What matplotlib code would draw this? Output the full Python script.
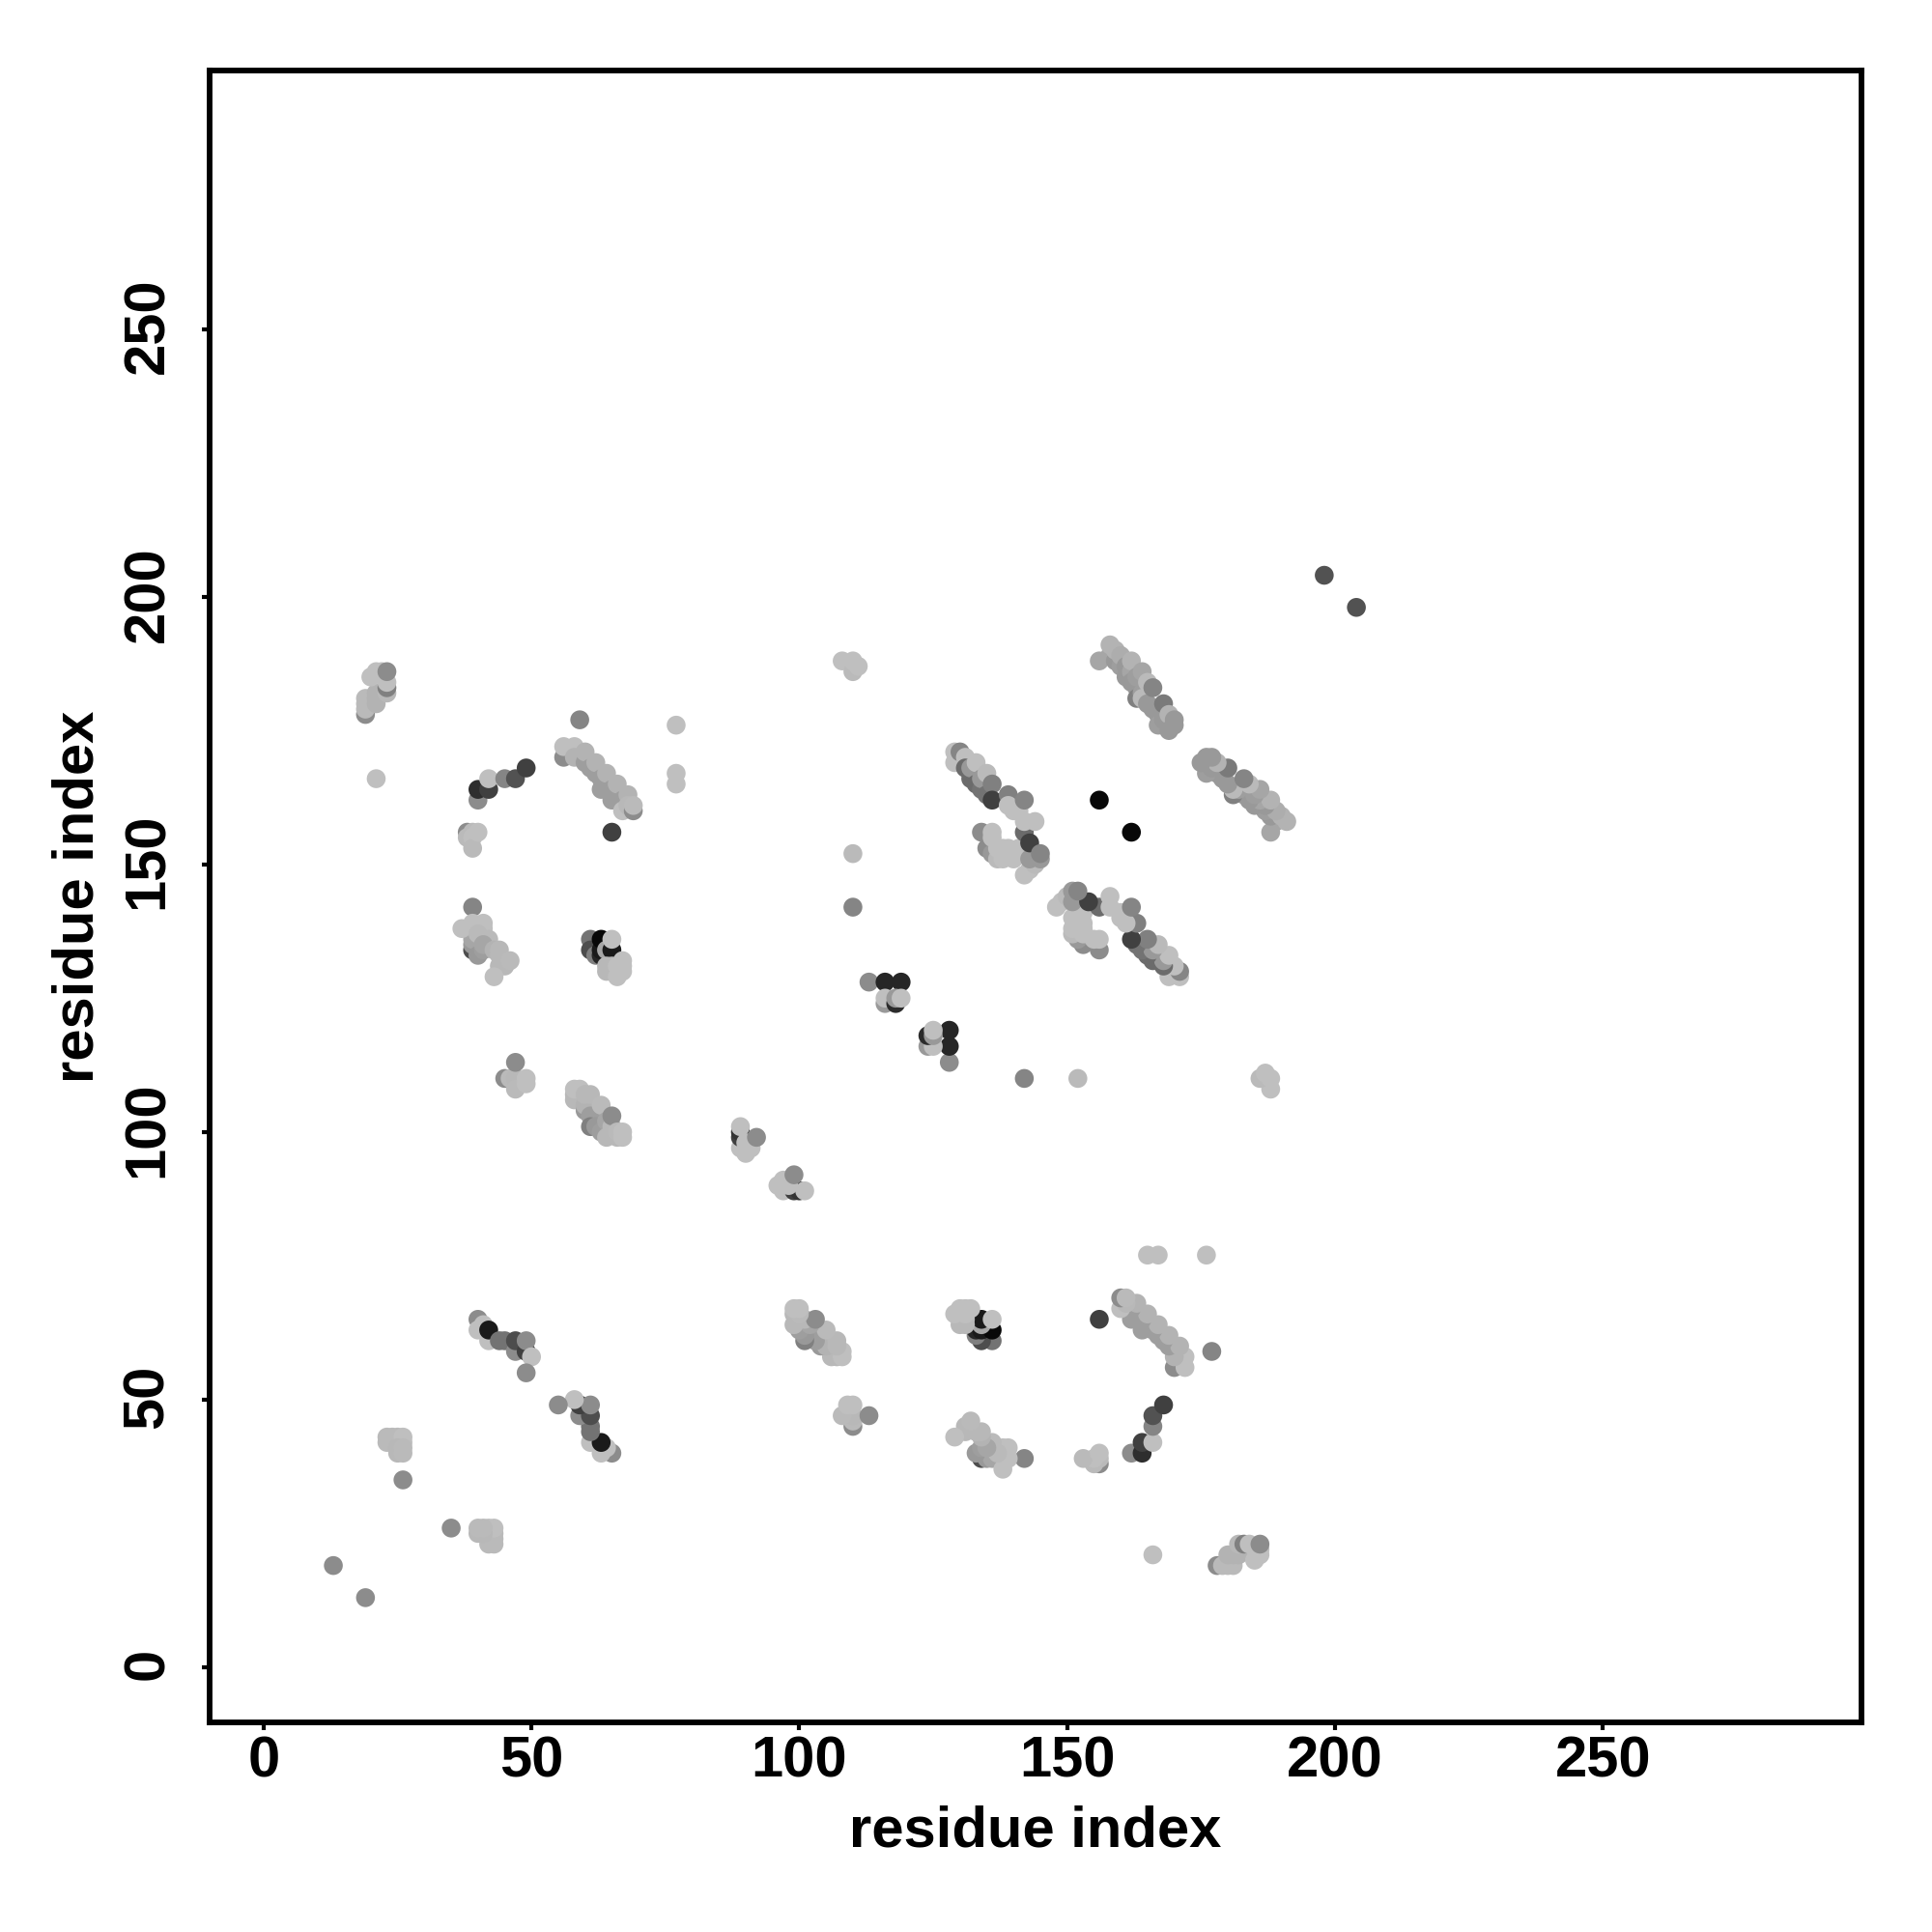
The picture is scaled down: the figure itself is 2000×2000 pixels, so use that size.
#!/usr/bin/env python3
import numpy as np
import matplotlib
matplotlib.use("Agg")
import matplotlib.pyplot as plt
from matplotlib.transforms import ScaledTranslation

# contacts as (residue i, residue j, grey level), the map is symmetric
c_lone = [(13,19,.55),(26,35,.55),(21,166,.75),(59,177,.52),(65,156,.25),(77,165,.75),(77,167,.75),(77,176,.75),
          (110,142,.52),(110,152,.73),(156,162,.03),(198,204,.32)]
c_19_186 = [(19,178,.55),(19,179,.73),(19,180,.73),(19,181,.73),(20,180,.73),(20,181,.73),(21,180,.7),(21,181,.7),
            (21,182,.7),(22,182,.7),(23,182,.72),(23,183,.5),(23,184,.75),(20,185,.75),(21,186,.75),(22,186,.75),(23,186,.55)]
c_40_168 = [(40,162,.55),(40,164,.18),(42,164,.25),(42,166,.75),(45,166,.52),(47,166,.32),(49,168,.25)]
c_38_156 = [(38,156,.55),(38,155,.73),(39,156,.73),(39,155,.75),(39,153,.73),(40,156,.75)]
c_45_113 = [(45,110,.55),(46,110,.73),(47,110,.72),(47,108,.73),(49,109,.75),(49,110,.75),(47,113,.55)]
c_56_172 = [(56,170,.55),(56,172,.75),(58,172,.75),(58,170,.7),(60,169,.62),(60,171,.7),(61,168,.62),(62,167,.62),
            (62,169,.7),(63,166,.62),(63,164,.62),(64,165,.62),(64,167,.7),(65,164,.62),(65,162,.62),(66,163,.62),
            (66,165,.7),(67,162,.62),(68,163,.7),(67,160,.75),(68,161,.72),(69,160,.55),(69,161,.73)]
c_37_142 = [(39,142,.52),(39,134,.3),(39,135,.6),(39,136,.65),(40,133,.6),(37,138,.75),(39,139,.75),(41,139,.75),
            (41,138,.75),(40,137,.73),(42,136,.73),(41,134,.62),(41,135,.65),(43,134,.7),(44,133,.72),(44,134,.72),
            (44,131,.72),(45,131,.72),(46,132,.73),(43,129,.75)]
c_61_136 = [(61,136,.45),(61,134,.3),(62,133,.5),(63,133,.15),(63,134,.1),(63,136,.03),(64,134,.65),(65,134,.1),
            (64,130,.72),(64,131,.72),(65,131,.72),(66,129,.75),(66,131,.75),(67,130,.75),(67,131,.75),(67,132,.75),(65,136,.75)]
c_58_108 = [(58,106,.72),(58,107,.72),(58,108,.75),(59,108,.75),(60,104,.6),(60,105,.7),(60,107,.72),(61,107,.72),
            (61,103,.62),(62,102,.62),(61,101,.5),(62,101,.6),(63,100,.62),(63,105,.73),(64,102,.65),(64,99,.72),
            (65,101,.72),(65,103,.55),(66,99,.72),(66,100,.73),(67,99,.75),(67,100,.75)]
c_89_101 = [(89,97,.75),(89,99,.25),(89,100,.2),(90,96,.75),(90,98,.75),(91,97,.75),(92,99,.55),(89,101,.75)]
c_113_128 = [(113,128,.55),(116,128,.15),(119,128,.15),(116,124,.6),(116,125,.75),(118,124,.17),(118,125,.6),(119,125,.75)]
c_108_188 = [(108,188,.75),(110,186,.73),(110,188,.75),(111,187,.75)]
c_129_171 = [(129,169,.75),(129,171,.75),(130,171,.52),(131,170,.75),(131,168,.42),(132,166,.42),(132,168,.6),(133,169,.75),
             (133,165,.42),(134,164,.45),(134,166,.6),(135,163,.45),(135,167,.73),(136,165,.5),(136,162,.25),(139,163,.5),
             (139,161,.75),(140,160,.75),(141,160,.75),(142,162,.52)]
c_134_158 = [(134,156,.55),(135,153,.55),(136,152,.6),(136,155,.75),(136,156,.75),(137,151,.73),(137,153,.75),(138,151,.75),
             (138,152,.75),(138,153,.75),(139,152,.75),(139,153,.75),(140,151,.75),(140,152,.75),(141,152,.75),(141,153,.75),
             (142,156,.42),(142,158,.75),(144,158,.75),(142,148,.75),(143,149,.75),
             (144,150,.73),(143,151,.6),(143,154,.25),(145,151,.6),(145,152,.52)]
c_156_191 = [(156,188,.65),(158,189,.65),(158,191,.7),(159,188,.6),(159,190,.7),(160,187,.62),(160,189,.68),(161,187,.6),(161,185,.6),
             (162,186,.65),(162,188,.7),(162,184,.6),(163,183,.6),(163,185,.62),(163,181,.5),(164,186,.65),(164,182,.62),(164,181,.73),(165,180,.6),
             (165,184,.73),(166,183,.52),(166,179,.6),(167,178,.6),(167,176,.62),(168,177,.6),(168,180,.48),(169,178,.7),
             (169,175,.6),(170,176,.6),(170,177,.6)]
c_23_43 = [(23,42,.73),(23,43,.73),(24,43,.73),(25,43,.73),(26,43,.75),(26,42,.75),(25,40,.72),(25,41,.72),(26,40,.73),(26,41,.73)]
c_40_65 = [(40,65,.55),(41,64,.75),(40,63,.75),(42,61,.75),(42,63,.1),(44,61,.45),(45,61,.45),(47,59,.55),(47,61,.3),
           (49,59,.25),(49,61,.55),(50,58,.75),(49,55,.55)]

ticks = [0, 50, 100, 150, 200, 250]
contacts = np.array(c_lone + c_19_186 + c_40_168 + c_38_156 + c_45_113 + c_56_172 + c_37_142 + c_61_136 + c_58_108
                    + c_89_101 + c_113_128 + c_108_188 + c_129_171 + c_134_158 + c_156_191 + c_23_43 + c_40_65)
#----------------------------------------
plt.rcParams['font.family'] = ['Liberation Sans', 'DejaVu Sans']
plt.rcParams['font.weight'] = 'bold'

fig = plt.figure(figsize=(20, 20), dpi=100)
ax = fig.add_axes([217/2000, 1-1783/2000, (1927-217)/2000, (1783-73)/2000])

grey = [str(g) for g in contacts[:, 2]]
ax.scatter(contacts[:, 0], contacts[:, 1], c=grey, s=198, linewidths=0, zorder=2)
ax.scatter(contacts[:, 1], contacts[:, 0], c=grey, s=198, linewidths=0, zorder=2)

ax.set_xlim(-10.1, 298.3)
ax.set_ylim(-10.3, 298.3)
ax.set_xticks(ticks)
ax.set_yticks(ticks)
ax.set_yticklabels([str(t) for t in ticks], rotation=90, va='center')
ax.tick_params(axis='x', length=6, width=3, labelsize=43, pad=4)
ax.tick_params(axis='y', length=6, width=3, labelsize=43, pad=20)
# rotated labels sit a little low with va='center'
shift = ScaledTranslation(0, 2.2/72, fig.dpi_scale_trans)
for lab in ax.get_yticklabels():
    lab.set_transform(lab.get_transform() + shift)
for s in ax.spines.values():
    s.set_linewidth(4.2)
ax.set_xlabel('residue index', fontsize=43, fontweight='bold', labelpad=12)
ax.set_ylabel('residue index', fontsize=43, fontweight='bold', labelpad=12.5)

fig.savefig('out.png', dpi=100)
